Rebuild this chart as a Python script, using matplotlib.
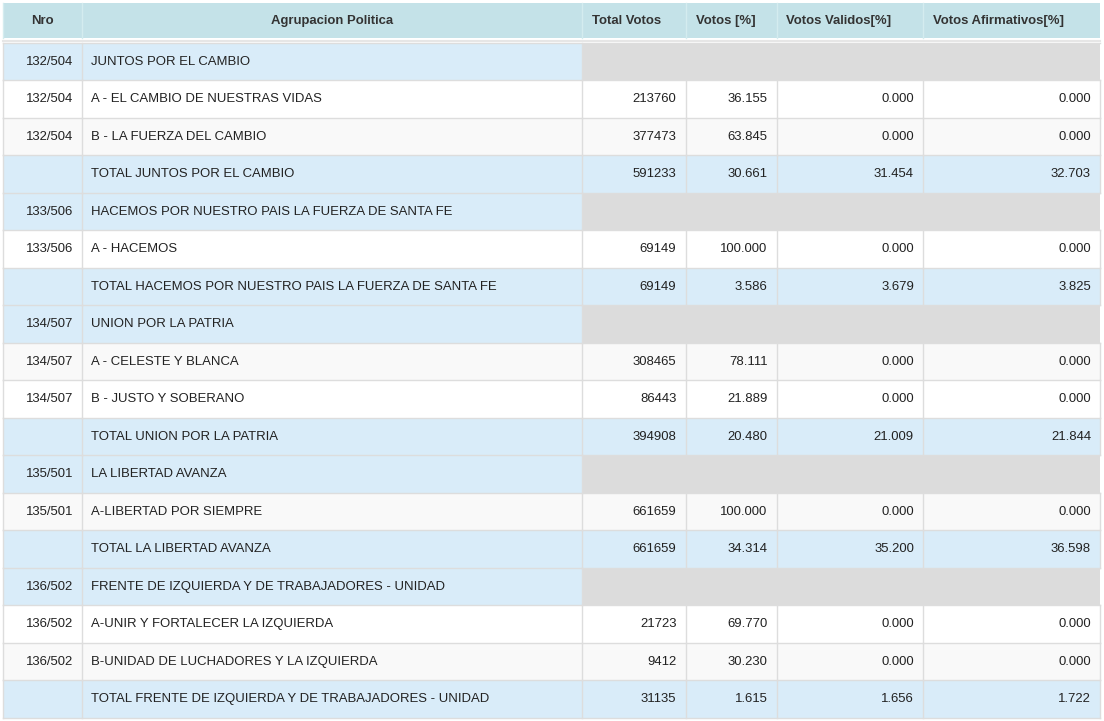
import matplotlib.pyplot as plt
from matplotlib.patches import Rectangle

plt.rcParams['font.family'] = ['Liberation Sans', 'DejaVu Sans']

headers = ['Nro', 'Agrupacion Politica', 'Total Votos', 'Votos [%]',
           'Votos Validos[%]', 'Votos Afirmativos[%]']

# tipo de fila: g = agrupacion, l = lista, t = total
row_kind = ['g', 'l', 'l', 't', 'g', 'l', 't', 'g', 'l', 'l', 't',
            'g', 'l', 't', 'g', 'l', 'l', 't']
nro = ['132/504', '132/504', '132/504', '', '133/506', '133/506', '',
       '134/507', '134/507', '134/507', '', '135/501', '135/501', '',
       '136/502', '136/502', '136/502', '']
agrupacion = [
    'JUNTOS POR EL CAMBIO',
    'A - EL CAMBIO DE NUESTRAS VIDAS',
    'B - LA FUERZA DEL CAMBIO',
    'TOTAL JUNTOS POR EL CAMBIO',
    'HACEMOS POR NUESTRO PAIS LA FUERZA DE SANTA FE',
    'A - HACEMOS',
    'TOTAL HACEMOS POR NUESTRO PAIS LA FUERZA DE SANTA FE',
    'UNION POR LA PATRIA',
    'A - CELESTE Y BLANCA',
    'B - JUSTO Y SOBERANO',
    'TOTAL UNION POR LA PATRIA',
    'LA LIBERTAD AVANZA',
    'A-LIBERTAD POR SIEMPRE',
    'TOTAL LA LIBERTAD AVANZA',
    'FRENTE DE IZQUIERDA Y DE TRABAJADORES - UNIDAD',
    'A-UNIR Y FORTALECER LA IZQUIERDA',
    'B-UNIDAD DE LUCHADORES Y LA IZQUIERDA',
    'TOTAL FRENTE DE IZQUIERDA Y DE TRABAJADORES - UNIDAD',
]
total_votos = [None, 213760, 377473, 591233, None, 69149, 69149, None,
               308465, 86443, 394908, None, 661659, 661659, None,
               21723, 9412, 31135]
votos_pct = [None, 36.155, 63.845, 30.661, None, 100.000, 3.586, None,
             78.111, 21.889, 20.480, None, 100.000, 34.314, None,
             69.770, 30.230, 1.615]
validos_pct = [None, 0.0, 0.0, 31.454, None, 0.0, 3.679, None,
               0.0, 0.0, 21.009, None, 0.0, 35.200, None,
               0.0, 0.0, 1.656]
afirm_pct = [None, 0.0, 0.0, 32.703, None, 0.0, 3.825, None,
             0.0, 0.0, 21.844, None, 0.0, 36.598, None,
             0.0, 0.0, 1.722]

W, H = 1104, 721
fig = plt.figure(figsize=(W / 100, H / 100), dpi=100)
ax = fig.add_axes([0, 0, 1, 1])
ax.set_xlim(0, W)
ax.set_ylim(H, 0)
ax.axis('off')

col_x = [3, 82, 581.5, 685.5, 776.5, 923, 1100]
head_top, head_bot = 3, 37.5
row_top, row_h = 42.5, 37.5
border = '#dddddd'
blue = '#d9ecf9'
grey = '#dcdcdc'
stripe = '#f9f9f9'
txt = '#222222'
fs = 9.45

# encabezado
ax.add_patch(Rectangle((col_x[0], head_top), col_x[-1] - col_x[0],
                       head_bot - head_top, fc='#c4e2e8', ec='none'))
for i, h in enumerate(headers):
    ax.plot([col_x[i], col_x[i]], [head_top, head_bot], color='#d4ecef', lw=1)
    if i < 2:
        ax.text((col_x[i] + col_x[i + 1]) / 2, (head_top + head_bot) / 2 + 0.5, h,
                ha='center', va='center', fontsize=fs, fontweight='bold', color='#333333')
    else:
        ax.text(col_x[i] + 10, (head_top + head_bot) / 2 + 0.5, h,
                ha='left', va='center', fontsize=fs, fontweight='bold', color='#333333')
ax.plot([col_x[0], col_x[-1]], [row_top - 1.5, row_top - 1.5], color='#e6e6e6', lw=1.5)

for r, kind in enumerate(row_kind):
    y0 = row_top + r * row_h
    yc = y0 + row_h / 2 + 0.5
    if kind == 'g':
        ax.add_patch(Rectangle((col_x[0], y0), col_x[2] - col_x[0], row_h, fc=blue, ec='none'))
        ax.add_patch(Rectangle((col_x[2], y0), col_x[-1] - col_x[2], row_h, fc=grey, ec='none'))
        vlines = col_x[:3]
    else:
        fc = blue if kind == 't' else (stripe if r % 2 == 0 else 'white')
        ax.add_patch(Rectangle((col_x[0], y0), col_x[-1] - col_x[0], row_h, fc=fc, ec='none'))
        vlines = col_x
    ax.plot([col_x[0], col_x[-1]], [y0, y0], color=border, lw=1)
    for x in vlines:
        ax.plot([x, x], [y0, y0 + row_h], color=border, lw=1)

    ax.text(col_x[1] - 9, yc, nro[r], ha='right', va='center', fontsize=fs, color=txt)
    ax.text(col_x[1] + 9, yc, agrupacion[r], ha='left', va='center', fontsize=fs, color=txt)
    if kind != 'g':
        vals = [str(total_votos[r]), f'{votos_pct[r]:.3f}',
                f'{validos_pct[r]:.3f}', f'{afirm_pct[r]:.3f}']
        for j, v in enumerate(vals):
            ax.text(col_x[j + 3] - 9, yc, v, ha='right', va='center', fontsize=fs, color=txt)

last = row_top + len(row_kind) * row_h
ax.plot([col_x[0], col_x[-1]], [last, last], color=border, lw=1)

fig.savefig('out.png', dpi=100)
